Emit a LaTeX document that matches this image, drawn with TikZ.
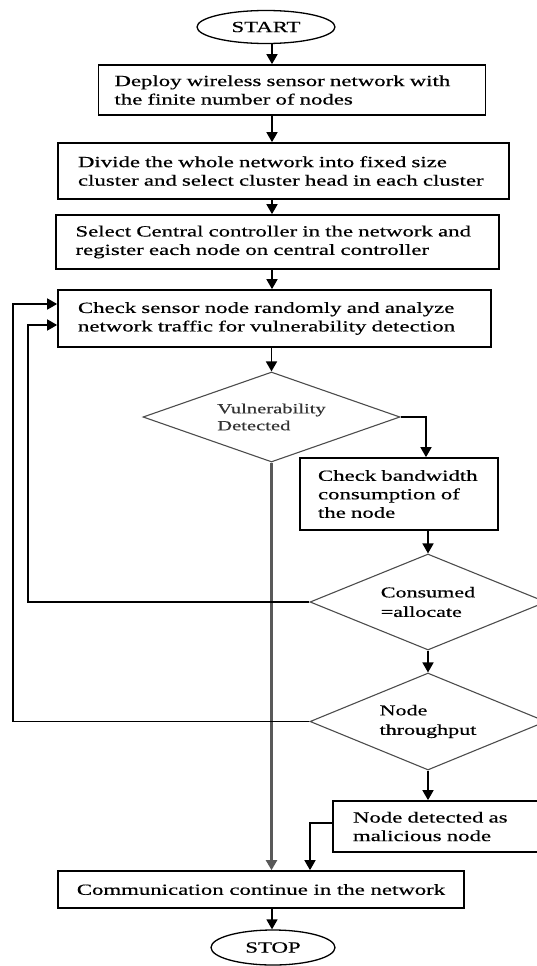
\documentclass[tikz,border=0pt]{standalone}
\usepackage{fontspec}
\newfontfamily\bxfont[FakeStretch=1.47,FakeBold=0.5]{Liberation Serif}
\usetikzlibrary{shapes.geometric,arrows.meta,calc}
\begin{document}
\begin{tikzpicture}[x=1pt,y=-1pt,
  txt/.style={font=\bxfont\fontsize{15.5}{18.5}\selectfont},
  stepbox/.style={txt,draw=black,line width=1.7pt,rectangle,inner sep=0pt,align=left},
  term/.style={txt,draw=black,line width=1.3pt,ellipse,inner sep=0pt},
  decision/.style={draw=black!70,line width=1.1pt,diamond,inner sep=0pt,align=left,
    font=\bxfont\fontsize{15}{19.5}\selectfont},
  arr/.style={-{Triangle[width=11pt,length=10pt]},line width=1.6pt,draw=black},
  mainline/.style={arr,draw=black!65,line width=2.2pt}]
\useasboundingbox (0,0) rectangle (537,966);
\clip (0,0) rectangle (537,966);

\coordinate (mx) at (272,0);
\coordinate (rx) at (426,0);
\coordinate (lx1) at (28,0);
\coordinate (ly1) at (0,325);
\coordinate (lx2) at (13,0);
\coordinate (ly2) at (0,304);
\coordinate (jx) at (310,0);
\coordinate (jy) at (0,823);

\node[term, minimum width=138pt, minimum height=33pt] (start) at (266,27) {START};

\node[stepbox, minimum width=387pt, minimum height=50pt, text width=355pt] (b1) at (292,90)
  {\mbox{Deploy wireless sensor network with}\\\mbox{the finite number of nodes}};
\node[stepbox, minimum width=451pt, minimum height=56pt, text width=411pt] (b2) at (283.5,171)
  {\mbox{Divide the whole network into fixed size}\\\mbox{cluster and select cluster head in each cluster}};
\node[stepbox, minimum width=443pt, minimum height=54pt, text width=404pt] (b3) at (277.5,242)
  {\mbox{Select Central controller in the network and}\\\mbox{register each node on central controller}};
\node[stepbox, minimum width=433pt, minimum height=57pt, text width=393pt] (b4) at (274.5,318.5)
  {\mbox{Check sensor node randomly and analyze}\\\mbox{network traffic for vulnerability detection}};

\node[decision, shape aspect=2.86, minimum width=257pt, minimum height=90pt,
      font=\bxfont\fontsize{14}{17}\selectfont, text=black!80] (d1) at (271.5,417)
  {Vulnerability\\Detected};

\node[stepbox, minimum width=198pt, minimum height=72pt, text width=162pt] (b5) at (399,494)
  {\mbox{Check bandwidth}\\\mbox{consumption of}\\\mbox{the node}};

\node[decision, shape aspect=2.46, minimum width=236pt, minimum height=96pt] (d2) at (428,602)
  {Consumed\\=allocate};
\node[decision, shape aspect=2.43, minimum width=236pt, minimum height=97pt] (d3) at (428,721.5)
  {Node\\throughput};

\node[stepbox, minimum width=212pt, minimum height=51pt, text width=172pt] (b6) at (439,826.5)
  {\mbox{Node detected as}\\\mbox{malicious node}};

\node[stepbox, minimum width=406pt, minimum height=37pt, align=center] (b7) at (261,889.5)
  {Communication continue in the network};

\node[term, minimum width=124pt, minimum height=35pt] (stop) at (273,947.5) {STOP};

% main flow
\draw[arr] (start.south -| mx) -- (b1.north -| mx);
\draw[arr] (b1.south -| mx) -- (b2.north -| mx);
\draw[arr] (b2.south -| mx) -- (b3.north -| mx);
\draw[arr] (b3.south -| mx) -- (b4.north -| mx);
\draw[arr] (b4.south -| d1.north) -- (d1.north);
\draw[arr] (d1.east) -| (b5.north -| rx);
\draw[arr] (b5.south -| d2.north) -- (d2.north);
\draw[arr] (d2.south) -- (d3.north);
\draw[arr] (d3.south) -- (b6.north -| d3.south);
\draw[mainline] (d1.south) -- (b7.north -| d1.south);
\draw[arr] (b6.west |- jy) -| (b7.north -| jx);
\draw[arr] (b7.south -| mx) -- (stop.north -| mx);

% loops back
\draw[arr] (d2.west) -| (ly1 -| lx1) -- (ly1 -| b4.west);
\draw[arr] (d3.west) -| (ly2 -| lx2) -- (ly2 -| b4.west);
\end{tikzpicture}
\end{document}
